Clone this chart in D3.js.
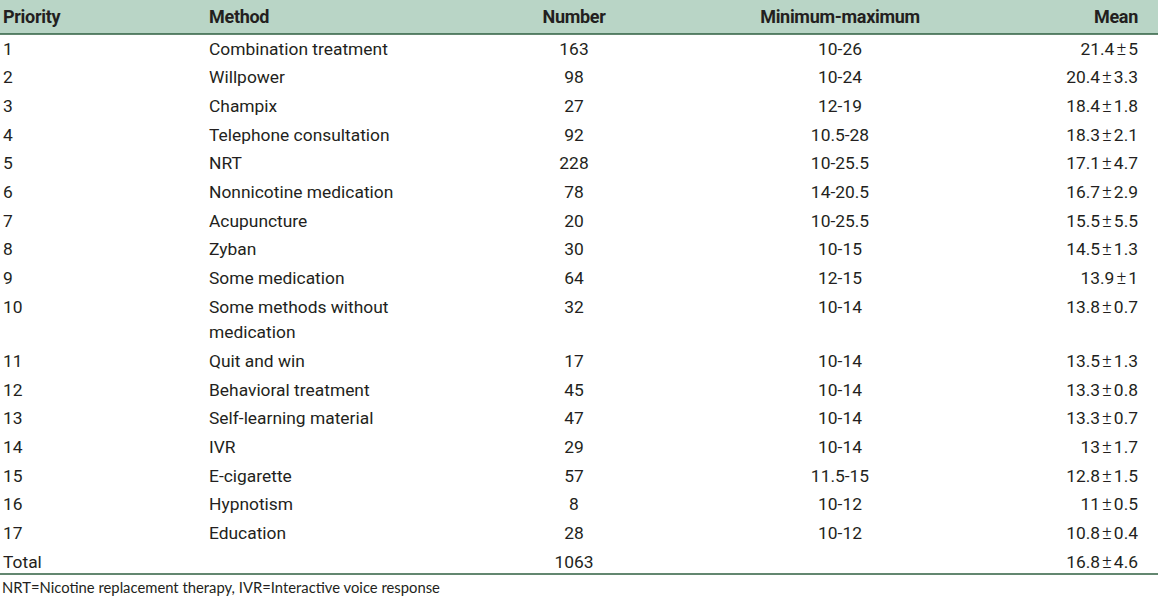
<!DOCTYPE html>
<html><head><meta charset="utf-8">
<script src="https://cdn.jsdelivr.net/npm/d3@7"></script>
<style>
body{margin:0;background:#fff;}
svg{display:block;}
</style></head>
<body><svg id="c" width="1158" height="598"></svg>
<script>
const headers = ["Priority","Method","Number","Minimum-maximum","Mean"];
const priorities = ["1","2","3","4","5","6","7","8","9","10","11","12","13","14","15","16","17","Total"];
const methods = ["Combination treatment","Willpower","Champix","Telephone consultation","NRT","Nonnicotine medication","Acupuncture","Zyban","Some medication","Some methods without\nmedication","Quit and win","Behavioral treatment","Self-learning material","IVR","E-cigarette","Hypnotism","Education",""];
const numbers = ["163","98","27","92","228","78","20","30","64","32","17","45","47","29","57","8","28","1063"];
const ranges = ["10-26","10-24","12-19","10.5-28","10-25.5","14-20.5","10-25.5","10-15","12-15","10-14","10-14","10-14","10-14","10-14","11.5-15","10-12","10-12",""];
const means = ["21.4±5","20.4±3.3","18.4±1.8","18.3±2.1","17.1±4.7","16.7±2.9","15.5±5.5","14.5±1.3","13.9±1","13.8±0.7","13.5±1.3","13.3±0.8","13.3±0.7","13±1.7","12.8±1.5","11±0.5","10.8±0.4","16.8±4.6"];
const footnote = "NRT=Nicotine replacement therapy, IVR=Interactive voice response";

const W = 1158;
const svg = d3.select("#c");
const font = "Roboto, 'Liberation Sans Narrow', sans-serif";

// header
const headH = 34;
svg.append("rect").attr("x",0).attr("y",0).attr("width",W).attr("height",headH).attr("fill","#b9d5c6");
svg.append("line").attr("x1",0).attr("x2",W).attr("y1",headH).attr("y2",headH).attr("stroke","#2f5f40").attr("stroke-width",1.5);

const cols = [
  {x:3, anchor:"start", data:priorities},
  {x:209, anchor:"start", data:methods},
  {x:574, anchor:"middle", data:numbers},
  {x:840, anchor:"middle", data:ranges},
  {x:1138, anchor:"end", data:means}
];

svg.selectAll("text.h").data(headers).join("text")
  .attr("class","h")
  .attr("x",(d,i)=>cols[i].x).attr("y",headH/2).attr("dy","0.35em")
  .attr("text-anchor",(d,i)=>cols[i].anchor)
  .attr("font-family",font).attr("font-weight","bold").attr("font-size",18)
  .attr("fill","#231f20").attr("letter-spacing","-0.3")
  .text(d=>d);

// row positions via cumulative units
const lineCounts = methods.map(m=>m.split("\n").length);
const starts = [];
let acc = 0;
lineCounts.forEach(n=>{starts.push(acc); acc += 1 + (n-1)*0.88;});
const y = d3.scaleLinear().domain([0,1]).range([48.5,48.5+28.7]);

cols.forEach((c,ci)=>{
  const g = svg.append("g");
  c.data.forEach((d,ri)=>{
    const t = g.append("text")
      .attr("x",c.x).attr("y",y(starts[ri]))
      .attr("text-anchor",c.anchor)
      .attr("font-family",font).attr("font-size",17.4)
      .attr("fill","#231f20");
    if (ci === 4 && d.includes("±")) {
      const [a,b] = d.split("±");
      t.append("tspan").attr("dy","0.35em").text(a);
      t.append("tspan").attr("dx",2).attr("font-size",18.5).attr("font-weight",300).text("±");
      t.append("tspan").attr("dx",2).text(b);
    } else {
      d.split("\n").forEach((l,li)=>{
        t.append("tspan").attr("x",c.x).attr("dy", li===0 ? "0.35em" : 25.3).text(l);
      });
    }
  });
});

const botY = 574;
svg.append("line").attr("x1",0).attr("x2",W).attr("y1",botY).attr("y2",botY).attr("stroke","#2f5f40").attr("stroke-width",1.5);

svg.append("text").attr("x",2).attr("y",588).attr("dy","0.35em")
  .attr("font-family","Lato, 'Open Sans', sans-serif").attr("font-size",14.8)
  .attr("fill","#231f20").text(footnote);
</script></body></html>
